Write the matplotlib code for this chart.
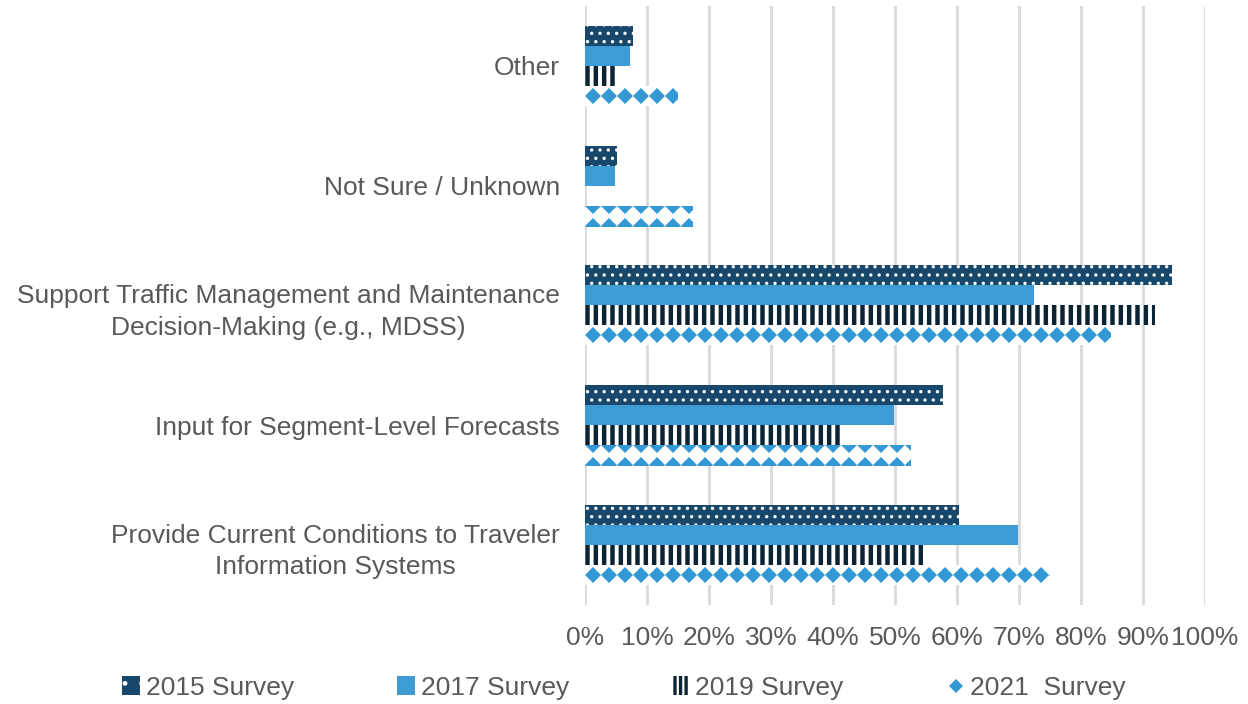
import numpy as np
import matplotlib.pyplot as plt
from matplotlib.patches import Patch
from matplotlib.lines import Line2D

plt.rcParams['font.family'] = ['Liberation Sans', 'DejaVu Sans']

# categories listed bottom to top
categories = [
    "Provide Current Conditions to Traveler\nInformation Systems",
    "Input for Segment-Level Forecasts",
    "Support Traffic Management and Maintenance\nDecision-Making (e.g., MDSS)",
    "Not Sure / Unknown",
    "Other",
]
survey_2015 = [60.3, 57.7, 94.7, 5.2, 7.7]
survey_2017 = [69.8, 49.8, 72.4, 4.8, 7.3]
survey_2019 = [54.5, 41.6, 91.9, 0.0, 5.2]
survey_2021 = [74.8, 52.4, 84.7, 17.3, 14.8]
series_labels = ["2015 Survey", "2017 Survey", "2019 Survey", "2021  Survey"]

navy = "#17476A"
blue = "#3E9BD3"
dark = "#0B2433"
dblue = "#3399D4"
text_col = "#595959"
fs = 19

fig = plt.figure(figsize=(12.48, 7.04), dpi=100)
ax = fig.add_axes([0.4688, 0.1406, 0.4968, 0.851])

y = np.arange(len(categories))
h = 0.167

# 2015: navy with white dots
bars15 = ax.barh(y + 1.5 * h, survey_2015, height=h, color=navy, edgecolor="white",
                 linewidth=0, hatch="..", zorder=3)
for b in bars15:
    b.set_hatch_linewidth(1.2)
# 2017: solid blue
ax.barh(y + 0.5 * h, survey_2017, height=h, color=blue, linewidth=0, zorder=3)
# 2019: dark vertical stripes on white
bars19 = ax.barh(y - 0.5 * h, survey_2019, height=h, color="white", edgecolor=dark,
                 linewidth=0, hatch="||", zorder=3)
for b in bars19:
    b.set_hatch_linewidth(3.2)
# 2021: rows of diamonds on white, clipped to each bar
bars21 = ax.barh(y - 1.5 * h, survey_2021, height=h, color="white", linewidth=0, zorder=3)
step = 2.58
for i, (b, v) in enumerate(zip(bars21, survey_2021)):
    xs = np.arange(step / 2, v + step, step)
    yc = y[i] - 1.5 * h
    rows = [yc] if i % 2 == 0 else [yc + h / 2, yc - h / 2]
    for yr in rows:
        ln, = ax.plot(xs, np.full_like(xs, yr), ls="none", marker="D",
                      ms=8.5, color=dblue, mew=0, zorder=4)
        ln.set_clip_path(b)

ax.set_xlim(0, 100)
ax.set_ylim(-0.5, 4.5)
ax.set_xticks(np.arange(0, 101, 10))
ax.set_xticklabels([f"{t}%" for t in range(0, 101, 10)])
ax.set_yticks(y)
ax.set_yticklabels(categories, ha="right")
ax.tick_params(axis="both", length=0, labelsize=fs, colors=text_col)
ax.tick_params(axis="x", pad=15)
ax.tick_params(axis="y", pad=18)
for lab in ax.get_yticklabels():
    lab.set_multialignment("center")
    lab.set_linespacing(1.4)
ax.grid(axis="x", color="#D9D9D9", linewidth=2, zorder=0)
for s in ax.spines.values():
    s.set_visible(False)

h15 = Patch(facecolor=navy, edgecolor="white", linewidth=0, hatch=".")
h17 = Patch(facecolor=blue, linewidth=0)
h19 = Patch(facecolor="white", edgecolor=dark, linewidth=0, hatch="|||")
h21 = Line2D([], [], ls="none", marker="D", ms=7, color=dblue, mew=0)
leg = fig.legend([h15, h17, h19, h21], series_labels, loc="center",
                 bbox_to_anchor=(0.5, 0.023), ncol=4, frameon=False, fontsize=fs,
                 labelcolor=text_col, columnspacing=3.9, handlelength=0.7,
                 handleheight=0.7, handletextpad=0.2)
for p in leg.get_patches():
    p.set_hatch_linewidth(2.4 if p.get_hatch() == "|||" else 1.0)

fig.savefig("out.png", dpi=100)
